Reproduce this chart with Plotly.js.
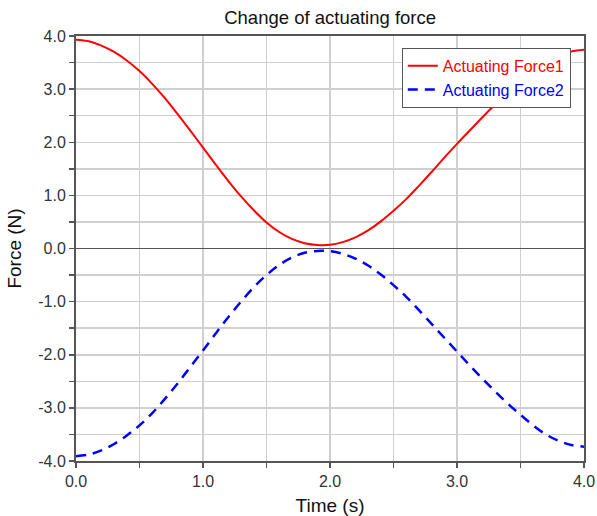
<!DOCTYPE html>
<html>
<head>
<meta charset="utf-8">
<script src="https://cdn.plot.ly/plotly-3.0.1.min.js"></script>
<style>html,body{margin:0;padding:0;background:#fff;}#chart{width:597px;height:516px;}</style>
</head>
<body>
<div id="chart"></div>
<script>
const time = [0.0,0.1,0.2,0.3,0.4,0.5,0.6,0.7,0.8,0.9,1.0,1.1,1.2,1.3,1.4,1.5,1.6,1.7,1.8,1.9,2.0,2.1,2.2,2.3,2.4,2.5,2.6,2.7,2.8,2.9,3.0,3.1,3.2,3.3,3.4,3.5,3.6,3.7,3.8,3.9,4.0];
const force1 = [3.93,3.90,3.82,3.70,3.54,3.34,3.10,2.83,2.53,2.22,1.90,1.58,1.27,0.98,0.72,0.49,0.31,0.18,0.10,0.066,0.07,0.12,0.21,0.34,0.51,0.71,0.93,1.18,1.44,1.71,1.97,2.22,2.47,2.71,2.94,3.15,3.35,3.52,3.64,3.71,3.74];
const force2 = [-3.91,-3.88,-3.80,-3.68,-3.52,-3.33,-3.10,-2.83,-2.54,-2.23,-1.92,-1.60,-1.29,-1.00,-0.73,-0.50,-0.31,-0.17,-0.08,-0.045,-0.05,-0.10,-0.19,-0.32,-0.49,-0.69,-0.91,-1.16,-1.42,-1.68,-1.94,-2.20,-2.45,-2.69,-2.92,-3.13,-3.33,-3.50,-3.62,-3.70,-3.73];
const seriesNames = ['Actuating Force1','Actuating Force2'];
const xTickVals = [0,0.5,1,1.5,2,2.5,3,3.5,4];
const xTickText = ['0.0','','1.0','','2.0','','3.0','','4.0'];
const yTickVals = [-4,-3.5,-3,-2.5,-2,-1.5,-1,-0.5,0,0.5,1,1.5,2,2.5,3,3.5,4];
const yTickText = ['-4.0','','-3.0','','-2.0','','-1.0','','0.0','','1.0','','2.0','','3.0','','4.0'];

const font = 'Liberation Sans, Arial, sans-serif';
const traces = [
  {x: time, y: force1, type: 'scatter', mode: 'lines', line: {color: '#ff0000', width: 2, shape: 'spline'},
   name: '<span style="color:#ff0000">' + seriesNames[0] + '</span>'},
  {x: time, y: force2, type: 'scatter', mode: 'lines', line: {color: '#0000ff', width: 2.5, dash: '10px,7px', shape: 'spline'},
   name: '<span style="color:#0000ff">' + seriesNames[1] + '</span>'}
];
const axisCommon = {
  showline: true, linecolor: '#555', linewidth: 2, mirror: true,
  ticks: 'outside', ticklen: 5, tickwidth: 1.5, tickcolor: '#555',
  showgrid: true, gridcolor: '#cfcfcf', gridwidth: 1.5,
  tickfont: {family: font, size: 16, color: '#333'},
  tickmode: 'array', fixedrange: true
};
const layout = {
  width: 597, height: 516,
  margin: {l: 76, r: 13, t: 36, b: 55},
  paper_bgcolor: '#fff', plot_bgcolor: '#fff',
  title: {text: 'Change of actuating force', font: {family: font, size: 18.5, color: '#111'}, x: 0.553, xanchor: 'center', y: 0.966, yanchor: 'middle'},
  xaxis: Object.assign({}, axisCommon, {range: [0, 4], tickvals: xTickVals, ticktext: xTickText, zeroline: false,
    title: {text: 'Time (s)', font: {family: font, size: 19, color: '#111'}, standoff: 10}}),
  yaxis: Object.assign({}, axisCommon, {range: [-4, 4], tickvals: yTickVals, ticktext: yTickText,
    zeroline: true, zerolinecolor: '#555', zerolinewidth: 1.5,
    title: {text: 'Force (N)', font: {family: font, size: 19, color: '#111'}, standoff: 12}}),
  showlegend: true,
  legend: {x: 0.974, y: 0.972, xanchor: 'right', yanchor: 'top', bgcolor: '#fff', bordercolor: '#555', borderwidth: 1,
    font: {family: font, size: 16}, itemwidth: 30, tracegroupgap: 0}
};
Plotly.newPlot('chart', traces, layout, {displayModeBar: false, staticPlot: true});
</script>
</body>
</html>
